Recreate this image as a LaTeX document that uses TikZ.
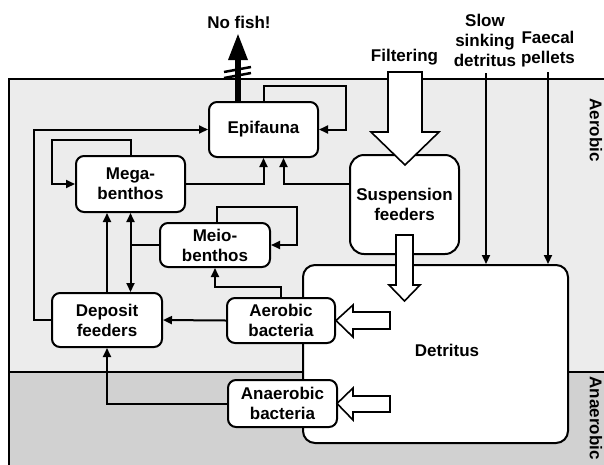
\documentclass[tikz,border=0pt]{standalone}
\usepackage{fontspec}
\setmainfont{Liberation Sans}
\usetikzlibrary{arrows.meta}
\definecolor{aerogray}{gray}{0.925}
\definecolor{anaerogray}{gray}{0.82}
\begin{document}
\begin{tikzpicture}[x=1pt,y=-1pt,
    box/.style={draw, line width=2pt, rounded corners=8pt, fill=white,
      align=center, inner sep=2pt, font=\fontsize{17}{20}\selectfont\bfseries},
    lbl/.style={align=center, inner sep=0pt, font=\fontsize{17}{20}\selectfont\bfseries},
    flow/.style={line width=2pt, -{Triangle[length=9pt,width=8pt]}},
    hollow/.style={draw, line width=1.6pt, fill=white, line join=miter}]
  \useasboundingbox (0,0) rectangle (604,464);
  % zones
  \fill[aerogray] (9,79) rectangle (610,372);
  \fill[anaerogray] (9,372) rectangle (610,470);
  \draw[line width=1.5pt] (610,79) -- (9,79) -- (9,470);
  \draw[line width=1.5pt] (9,372) -- (610,372);
  \node[lbl, rotate=-90] (aerob) at (596,130) {Aerobic};
  \node[lbl, rotate=-90] (anaerob) at (596,418) {Anaerobic};
  % compartments
  \node[box, minimum width=109pt, minimum height=55pt] (epi) at (263.5,129.5) {Epifauna};
  \node[box, minimum width=109pt, minimum height=56pt] (mega) at (130.5,184) {Mega-\\benthos};
  \node[box, minimum width=110pt, minimum height=44pt] (meio) at (215,245) {Meio-\\benthos};
  \node[box, minimum width=109pt, minimum height=99pt, rounded corners=14pt] (susp) at (404.5,204.5) {Suspension\\feeders};
  \node[box, minimum width=265pt, minimum height=178pt, rounded corners=12pt] (det) at (435.5,354) {};
  \node[lbl] (detlbl) at (447,350) {Detritus};
  \node[box, minimum width=110pt, minimum height=54pt] (dep) at (107,320) {Deposit\\feeders};
  \node[box, minimum width=108pt, minimum height=45pt] (aer) at (281,320.5) {Aerobic\\bacteria};
  \node[box, minimum width=109pt, minimum height=47pt] (anaer) at (282.5,403.5) {Anaerobic\\bacteria};
  % inputs from above
  \node[lbl] (nofish) at (239,22) {No fish!};
  \node[lbl] (filter) at (404.5,57) {Filtering};
  \node[lbl] (slow) at (485,40) {Slow\\sinking\\detritus};
  \node[lbl] (faecal) at (548,49) {Faecal\\pellets};
  \coordinate (fishtip) at (238,33);
  \coordinate (slowtop) at (486,73);
  \coordinate (faecaltop) at (548,72);
  % hollow arrows
  \draw[hollow] (388,72) -- (388,132) -- (371,132) -- (405,165) -- (439,132) -- (422,132) -- (422,72) -- cycle;
  \draw[hollow] (396,235) -- (396,285) -- (389,285) -- (404.5,301) -- (420,285) -- (413,285) -- (413,235) -- cycle;
  \draw[hollow] (390,312) -- (353,312) -- (353,305) -- (336,320.5) -- (353,337) -- (353,329) -- (390,329) -- cycle;
  \draw[hollow] (390,396) -- (353,396) -- (353,388) -- (337,403.5) -- (353,420) -- (353,412) -- (390,412) -- cycle;
  % no fish
  \draw[line width=6pt, -{Triangle[length=27pt,width=18pt]}] (epi.north -| fishtip) -- (fishtip);
  \draw[line width=2.5pt] (224,72) -- (251,67);
  \draw[line width=2.5pt] (224,78) -- (251,73);
  % flows
  \begin{scope}[flow]
    \draw (slowtop) -- (slowtop |- det.north);
    \draw (faecaltop) -- (faecaltop |- det.north);
    \draw (dep.west) -- ++(-17,0) |- (epi.west);
    \draw (mega.north) |- (52,140) |- (mega.west);
    \draw (mega.east) -| (epi.south);
    \draw (susp.west |- mega.east) -| ([xshift=20pt]epi.south);
    \draw (epi.north) |- (346,86) |- (epi.east);
    \draw (dep.north) -- (dep.north |- mega.south);
    \draw (meio.west) -| (mega.south);
    \draw (meio.west) -| (mega.south |- dep.north);
    \draw ([xshift=2pt]meio.north) |- (297,207) |- (meio.east);
    \draw (aer.north) |- (215,287) -- (meio.south);
    \draw (aer.west) -- (dep.east);
    \draw (anaer.west) -| (dep.south);
  \end{scope}
\end{tikzpicture}
\end{document}
